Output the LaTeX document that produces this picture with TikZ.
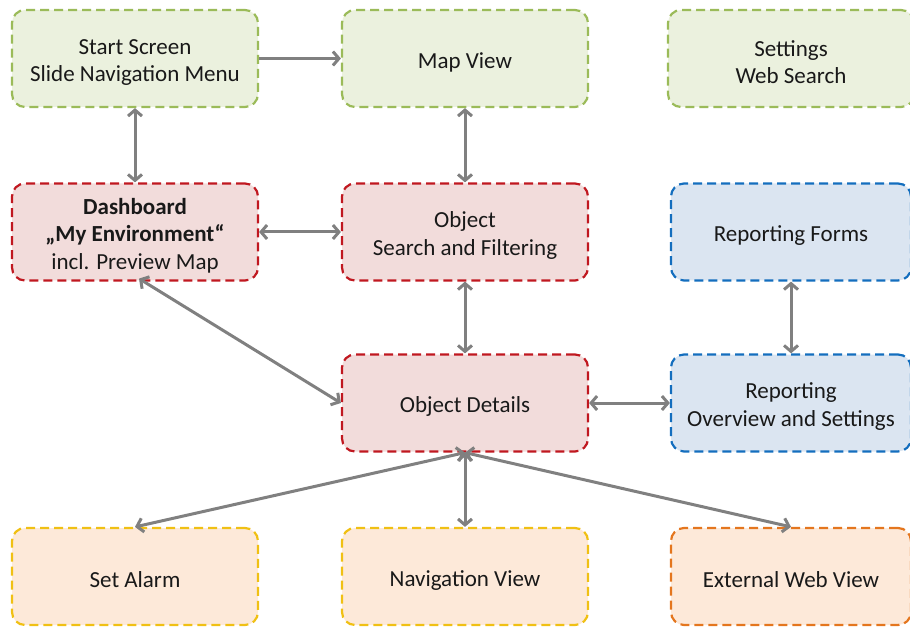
\documentclass[tikz,border=0pt]{standalone}
\usepackage{fontspec}
\setmainfont{Carlito}
\usetikzlibrary{arrows.meta}
\definecolor{gfill}{RGB}{235,241,222}
\definecolor{gline}{RGB}{155,187,89}
\definecolor{rfill}{RGB}{242,220,219}
\definecolor{rline}{RGB}{192,24,32}
\definecolor{bfill}{RGB}{219,229,241}
\definecolor{bline}{RGB}{20,110,190}
\definecolor{ofill}{RGB}{253,233,217}
\definecolor{yline}{RGB}{240,192,20}
\definecolor{oline}{RGB}{228,118,30}
\definecolor{arr}{RGB}{128,128,128}
\newcommand{\topstrut}{\rule{0pt}{23pt}}
\tikzset{
  box/.style={rectangle, rounded corners=13pt, minimum width=246pt, minimum height=97pt,
    line width=2.2pt, dash pattern=on 9pt off 5pt, align=center, inner sep=0pt,
    font=\fontsize{23}{27.5}\selectfont, text=black!90},
  gbox/.style={box, draw=gline, fill=gfill},
  rbox/.style={box, draw=rline, fill=rfill},
  bbox/.style={box, draw=bline, fill=bfill, minimum width=240pt},
  ybox/.style={box, draw=yline, fill=ofill},
  obox/.style={box, draw=oline, fill=ofill, minimum width=240pt},
  link/.style={draw=arr, line width=3pt, {Straight Barb[length=6pt,width=14pt]}-{Straight Barb[length=6pt,width=14pt]}},
  onelink/.style={draw=arr, line width=3pt, -{Straight Barb[length=6pt,width=14pt]}}
}
\begin{document}
\begin{tikzpicture}[x=1pt,y=-1pt]
\useasboundingbox (0,0) rectangle (910,628);
\node[gbox] (start) at (135,58.5) {\topstrut Start Screen\\Slide Navigation Menu};
\node[gbox] (map) at (465,58.5) {\topstrut Map View};
\node[gbox] (set) at (791,58.5) {\topstrut Settings\\Web Search};
\node[rbox] (dash) at (135,232) {\topstrut\textbf{Dashboard}\\\textbf{„My Environment“}\\incl. Preview Map};
\node[rbox] (search) at (465,232) {\topstrut Object\\Search and Filtering};
\node[bbox] (forms) at (791,232) {\topstrut Reporting Forms};
\node[rbox] (od) at (465,403) {\topstrut Object Details};
\node[bbox] (rep) at (791,403) {\topstrut Reporting\\Overview and Settings};
\node[ybox] (alarm) at (135,576.5) {\topstrut Set Alarm};
\node[ybox] (nav) at (465,576.5) {\topstrut Navigation View};
\node[obox] (ext) at (791,576.5) {\topstrut External Web View};
\draw[onelink] (start.east) -- (map.west);
\draw[link] (start.south) -- (dash.north);
\draw[link] (map.south) -- (search.north);
\draw[link] (dash.east) -- (search.west);
\draw[link] (search.south) -- (od.north);
\draw[link] ([xshift=4pt,yshift=3pt]dash.south) -- (od.west);
\draw[link] (od.east) -- (rep.west);
\draw[link] (forms.south) -- (rep.north);
\draw[link] (od.south) -- (alarm.north);
\draw[link] (od.south) -- (nav.north);
\draw[link] (od.south) -- (ext.north);
\end{tikzpicture}
\end{document}
